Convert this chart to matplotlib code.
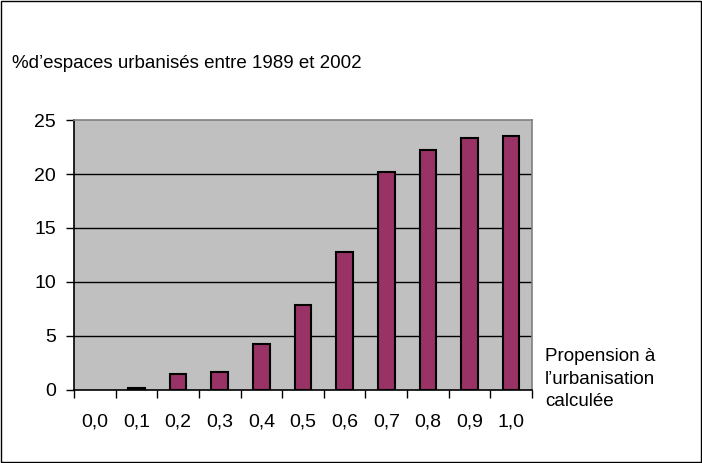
import matplotlib.pyplot as plt
import numpy as np

plt.rcParams['font.family'] = ['Liberation Sans', 'DejaVu Sans']

# data
categories = ["0,0", "0,1", "0,2", "0,3", "0,4", "0,5", "0,6", "0,7", "0,8", "0,9", "1,0"]
values = [0.0, 0.2, 1.45, 1.65, 4.25, 7.9, 12.75, 20.2, 22.2, 23.35, 23.55]
yticks = [0, 5, 10, 15, 20, 25]

fs = 13.5
fig = plt.figure(figsize=(7.02, 4.63), dpi=100)
ax = fig.add_axes([0.1054, 0.1577, 0.6524, 0.5831])
ax.set_facecolor('#C0C0C0')

x = np.arange(len(categories))
edges = ['black' if v > 0 else 'none' for v in values]
ax.bar(x, values, width=0.4, color='#993366', edgecolor=edges, linewidth=1.5, zorder=3)

ax.set_xlim(-0.5, len(categories) - 0.5)
ax.set_ylim(0, 25)
for y in yticks[1:-1]:
	ax.axhline(y, color='black', linewidth=1, zorder=1)

ax.set_yticks(yticks)
ax.set_yticklabels([str(v) for v in yticks], fontsize=14)
ax.set_xticks(np.arange(len(categories) + 1) - 0.5)
ax.set_xticklabels([])
ax.set_xticks(x, minor=True)
ax.set_xticklabels(categories, minor=True, fontsize=14)
ax.tick_params(axis='x', which='major', direction='out', length=6, width=1, color='black')
ax.tick_params(axis='x', which='minor', length=0, pad=17)
ax.tick_params(axis='y', direction='out', length=6, width=1, color='black', pad=7)

ax.spines['left'].set_color('black')
ax.spines['bottom'].set_color('black')
ax.spines['top'].set_color('#808080')
ax.spines['right'].set_color('#808080')
for s in ax.spines.values():
	s.set_linewidth(1.2)

fig.text(12 / 702, 1 - 63 / 463, "%d\u2019espaces urbanisés entre 1989 et 2002", fontsize=fs,
	ha='left', va='center')
fig.text(545 / 702, 1 - 379 / 463, "Propension à\nl\u2019urbanisation\ncalculée", fontsize=fs,
	ha='left', va='center', linespacing=1.4)

# outer chart border
fig.patches.append(plt.Rectangle((0.002, 0.003), 0.996, 0.994, transform=fig.transFigure,
	fill=False, edgecolor='black', linewidth=1))

fig.savefig("out.png", dpi=100)
